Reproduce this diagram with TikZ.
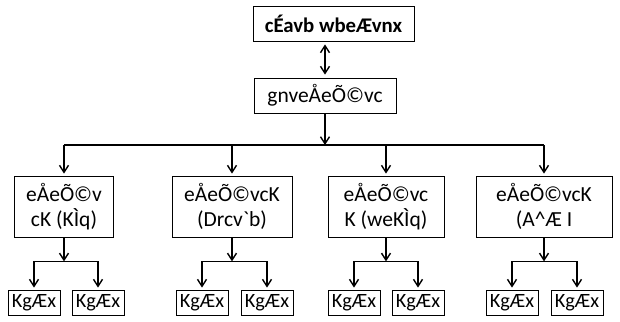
\documentclass[tikz,border=0pt]{standalone}
\usepackage{fontspec}
\setmainfont{Carlito}
\usetikzlibrary{arrows.meta, positioning, calc}

\tikzset{
    box/.style={draw, line width=0.8pt, inner sep=1pt, align=center, font=\fontsize{21.5}{25}\selectfont},
    leaf/.style={box, minimum width=52pt, minimum height=25pt, font=\fontsize{20.3}{22}\selectfont},
    arr/.style={line width=1.4pt, -{Straight Barb[length=7pt, width=9pt]}},
    link/.style={line width=1.4pt},
}

\begin{document}
\begin{tikzpicture}[x=1pt, y=-1pt]
    \useasboundingbox (0,0) rectangle (620,321);

    \node[box, minimum width=161pt, minimum height=35pt, font=\fontsize{20.8}{25}\selectfont\bfseries] (head) at (333.5,23.5) {cÉavb wbeÆvnx};
    \node[box, minimum width=142pt, minimum height=35pt] (main) at (325,95.5) {gnveÅeÕ©vc};

    \node[box, minimum width=99pt, minimum height=61pt] (b1) at (64,206.5) {eÅeÕ©v\\cK (KÌq)};
    \node[box, minimum width=120pt, minimum height=61pt] (b2) at (232,206.5) {eÅeÕ©vcK\\(Drcv\textasciigrave b)};
    \node[box, minimum width=116pt, minimum height=61pt] (b3) at (386,206.5) {eÅeÕ©vc\\K (weKÌq)};
    \node[box, minimum width=136pt, minimum height=61pt] (b4) at (544,206.5) {eÅeÕ©vcK\\(A\textasciicircum Æ I};

    \node[leaf] (l1a) at (34,302.5) {KgÆx};
    \node[leaf] (l1b) at (98,302.5) {KgÆx};
    \node[leaf] (l2a) at (202,302.5) {KgÆx};
    \node[leaf] (l2b) at (267,302.5) {KgÆx};
    \node[leaf] (l3a) at (354,302.5) {KgÆx};
    \node[leaf] (l3b) at (418,302.5) {KgÆx};
    \node[leaf] (l4a) at (512,302.5) {KgÆx};
    \node[leaf] (l4b) at (577,302.5) {KgÆx};

    % top link
    \draw[link, {Straight Barb[length=7pt, width=9pt]}-{Straight Barb[length=7pt, width=9pt]}, shorten <=3pt, shorten >=3pt] (head.south -| main) -- (main.north);

    % main bar
    \coordinate (bar) at (325,145);
    \draw[arr] (main.south) -- (bar);
    \draw[link] (b1.north |- bar) -- (b4.north |- bar);
    \foreach \b in {b1,b2,b3,b4}
        \draw[arr, shorten >=2pt] (\b.north |- bar) -- (\b.north);

    % leaf bars
    \foreach \b/\l/\r in {b1/l1a/l1b, b2/l2a/l2b, b3/l3a/l3b, b4/l4a/l4b} {
        \coordinate (\b j) at ($(\b.south)+(0,24)$);
        \draw[arr] (\b.south) -- (\b j);
        \draw[link] (\l.north |- \b j) -- (\r.north |- \b j);
        \draw[arr, shorten >=2pt] (\l.north |- \b j) -- (\l.north);
        \draw[arr, shorten >=2pt] (\r.north |- \b j) -- (\r.north);
    }
\end{tikzpicture}
\end{document}
